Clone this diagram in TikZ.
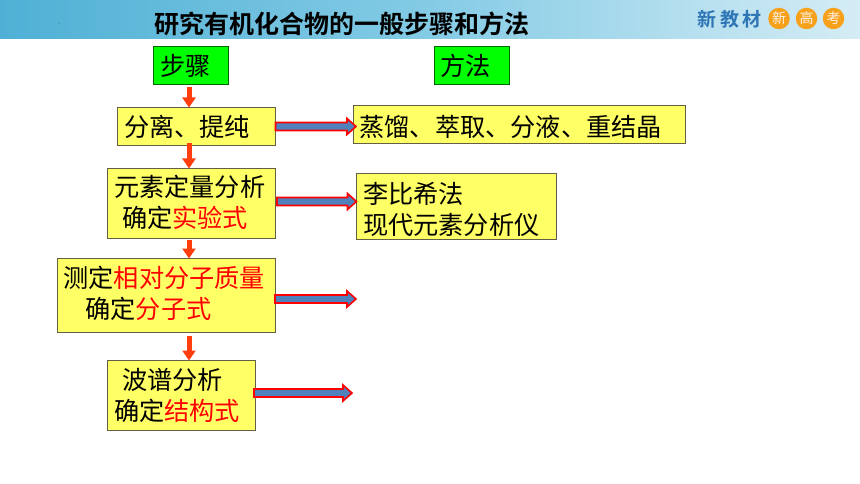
\documentclass[tikz,border=0pt]{standalone}
\usepackage{fontspec}
\setmainfont{Noto Sans CJK SC}[BoldFont={Noto Sans CJK SC Bold}]
\usetikzlibrary{calc,arrows.meta}
\definecolor{boxyellow}{HTML}{FFFF66}
\definecolor{boxgreen}{HTML}{00FF00}
\definecolor{arrowblue}{HTML}{4F81BD}
\definecolor{arrowred}{HTML}{FF3D0D}
\definecolor{logoblue}{HTML}{2E75B6}
\definecolor{logoorange}{HTML}{F7A11A}
\definecolor{headl}{HTML}{4FB0D5}
\definecolor{headm}{HTML}{84CBE5}
\definecolor{headr}{HTML}{D5ECF5}
\tikzset{
  x=1pt,y=-1pt,
  anybox/.style={draw=black!70!yellow,line width=0.9pt,anchor=north west,inner xsep=6.5pt,inner ysep=0pt,outer sep=0pt,align=left,font=\fontsize{25.2}{31}\selectfont},
  yellowbox/.style={anybox,fill=boxyellow},
  greenbox/.style={anybox,fill=boxgreen,draw=black!60!green},
  flowarrow/.style={-{Triangle[length=10pt,width=13pt]},line width=5pt,draw=arrowred},
  logotxt/.style={font=\fontsize{19}{19}\selectfont\bfseries,text=logoblue,inner sep=0pt},
  logodot/.style={circle,fill=logoorange,text=white!90!orange,minimum size=21.5pt,inner sep=0pt,font=\fontsize{14}{14}\selectfont},
}
\newcommand{\hl}[1]{\textcolor{red}{#1}}
\newcommand{\topgap}[1]{\rule{0pt}{#1}}
\newcommand{\botgap}[1]{\rule[-#1]{0pt}{1pt}}
% block arrow from coordinate #1 to #2 (horizontal)
\newcommand{\blockarrow}[2]{%
  \draw[draw=red,fill=arrowblue,line width=1.6pt,line join=miter]
    ($(#1)+(0,-4)$) -- ($(#2)+(-9,-4)$) -- ($(#2)+(-9,-8)$) -- (#2) --
    ($(#2)+(-9,8)$) -- ($(#2)+(-9,4)$) -- ($(#1)+(0,4)$) -- cycle;}
\begin{document}
\begin{tikzpicture}
\useasboundingbox (0,0) rectangle (860,484);
\fill[white] (0,0) rectangle (860,484);
\shade[left color=headl,right color=headr,middle color=headm] (0,0) rectangle (860,39);
\node[anchor=west,inner sep=0pt,font=\fontsize{25}{25}\selectfont\bfseries] (title) at (154,24) {研究有机化合物的一般步骤和方法};
\node[inner sep=0pt,font=\fontsize{5}{5}\selectfont] (dot) at (59,24) {.};
\node[logotxt] (l1) at (706.5,19) {新};
\node[logotxt] (l2) at (729.5,19) {教};
\node[logotxt] (l3) at (752,19) {材};
\node[logodot] (c1) at (779,18.5) {新};
\node[logodot] (c2) at (806.5,18.5) {高};
\node[logodot] (c3) at (833.5,18.5) {考};

\node[greenbox,minimum width=75pt,minimum height=38pt,text width=62pt] (s0) at (153.5,46.5) {步骤};
\node[greenbox,minimum width=75pt,minimum height=38pt,text width=62pt] (m0) at (434,46.5) {方法};
\node[yellowbox,minimum width=158pt,minimum height=38pt,text width=145pt] (s1) at (117.5,107.5) {分离、提纯};
\node[yellowbox,minimum width=332pt,minimum height=38pt,text width=319pt] (m1) at (353,105.5) {\topgap{27pt}蒸馏、萃取、分液、重结晶};
\node[yellowbox,minimum width=168pt,minimum height=70pt,text width=155pt] (s2) at (107.5,168.5) {元素定量分析\\\hspace*{8pt}确定\hl{实验式}\botgap{4.5pt}};
\node[yellowbox,minimum width=200pt,minimum height=66pt,text width=187pt] (m2) at (356.5,173.5) {\topgap{27pt}李比希法\\现代元素分析仪};
\node[yellowbox,minimum width=218pt,minimum height=74pt,text width=205pt] (s3) at (57,258.5) {测定\hl{相对分子质量}\\\hspace*{22pt}确定\hl{分子式}\botgap{6.5pt}};
\node[yellowbox,minimum width=148pt,minimum height=70pt,text width=135pt] (s4) at (107.5,360.5) {\hspace*{8pt}波谱分析\\确定\hl{结构式}};

\coordinate (f01a) at ($(s0.south)+(-2,2.5)$);
\coordinate (f01b) at (f01a |- s1.north);
\coordinate (f12a) at ($(f01a |- s1.south)+(0,-2)$);
\coordinate (f12b) at (f01a |- s2.north);
\coordinate (f23a) at ($(f01a |- s2.south)+(0,1.5)$);
\coordinate (f23b) at (f01a |- s3.north);
\coordinate (f34a) at ($(f01a |- s3.south)+(0,3.5)$);
\coordinate (f34b) at (f01a |- s4.north);
\draw[flowarrow] (f01a) -- (f01b);
\draw[flowarrow] (f12a) -- (f12b);
\draw[flowarrow] (f23a) -- (f23b);
\draw[flowarrow] (f34a) -- (f34b);

\coordinate (a1s) at (s1.east);
\coordinate (a1e) at ($(a1s -| m1.west)+(3,0)$);
\coordinate (a2s) at ($(s2.east)+(1.5,-2)$);
\coordinate (a2e) at (a2s -| m2.west);
\coordinate (a3s) at ($(s3.east)+(0,3.5)$);
\coordinate (a3e) at ($(a3s -| m2.west)+(-0.5,0)$);
\coordinate (a4s) at ($(s4.east)+(-1.5,-2.5)$);
\coordinate (a4e) at ($(a4s)+(98,0)$);
\blockarrow{a1s}{a1e}
\blockarrow{a2s}{a2e}
\blockarrow{a3s}{a3e}
\blockarrow{a4s}{a4e}
\end{tikzpicture}
\end{document}
